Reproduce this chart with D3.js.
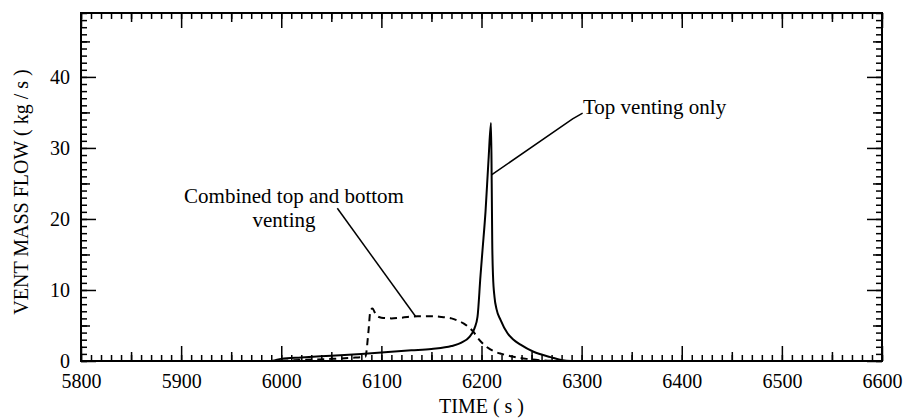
<!DOCTYPE html>
<html>
<head>
<meta charset="utf-8">
<script src="https://cdn.jsdelivr.net/npm/d3@7"></script>
<style>
  html, body { margin: 0; padding: 0; background: #fff; }
  svg { display: block; }
  text { font-family: "Liberation Serif", "Times New Roman", serif; fill: #000; }
</style>
</head>
<body>
<svg id="chart" width="903" height="420"></svg>
<script>
// ---- data ----
const topOnlyTime = [5990, 6000, 6020, 6050, 6080, 6100, 6130, 6150, 6170, 6180, 6188, 6193, 6196, 6199, 6201, 6204, 6207, 6209.5, 6210.2, 6210.7, 6211.5, 6213, 6215, 6219, 6226, 6232, 6239, 6252, 6269, 6281, 6290];
const topOnlyFlow = [0, 0.3, 0.5, 0.75, 1.0, 1.2, 1.5, 1.7, 2.1, 2.6, 3.4, 4.6, 6.2, 12, 15.6, 21, 28.3, 33.5, 25, 17, 12, 9, 7.3, 5.8, 3.9, 3.0, 2.3, 1.3, 0.55, 0.1, 0];

const combinedTime = [6000, 6020, 6050, 6070, 6084, 6087, 6089, 6091, 6095, 6100, 6110, 6120, 6136, 6150, 6160, 6170, 6176, 6182, 6187, 6192, 6196, 6201, 6206, 6212, 6220, 6232, 6245, 6260, 6275];
const combinedFlow = [0.05, 0.15, 0.3, 0.45, 0.6, 4.0, 7.0, 7.4, 6.4, 6.1, 6.0, 6.1, 6.3, 6.3, 6.2, 6.0, 5.7, 5.3, 4.8, 4.1, 3.3, 2.5, 1.9, 1.4, 1.0, 0.6, 0.3, 0.1, 0];

const xTickLabels = [5800, 5900, 6000, 6100, 6200, 6300, 6400, 6500, 6600];
const yTickLabels = [0, 10, 20, 30, 40];

const xTitle = "TIME ( s )";
const yTitle = "VENT MASS FLOW ( kg / s )";

const combinedLabel = ["Combined top and bottom", "venting"];
const combinedLeaderTime = [6056, 6134];
const combinedLeaderFlow = [21.5, 6.3];
const topLabel = "Top venting only";
const topLeaderTime = [6210, 6291, 6301];
const topLeaderFlow = [26.2, 34.1, 34.9];

// ---- layout ----
const svg = d3.select("#chart");
const L = 81, R = 882, T = 13, B = 361;
const x = d3.scaleLinear().domain([5800, 6600]).range([L, R]);
const y = d3.scaleLinear().domain([0, 49]).range([B, T]);

const g = svg.append("g");

function styleAxis(sel) {
  sel.select(".domain").remove();
  sel.selectAll("line").attr("stroke", "#000").attr("stroke-width", 1.5);
  sel.selectAll("text").style("font-size", "20px").attr("fill", "#000");
}

const xMinor = d3.range(5800, 6601, 10);
const xMed = d3.range(5850, 6600, 100);
const yMinor = d3.range(0, 49.01, 1);
const yMed = d3.range(5, 49, 10);

// bottom axis (ticks pointing up, inside)
g.append("g").attr("transform", `translate(0,${B})`)
  .call(d3.axisBottom(x).tickValues(xMinor).tickSize(-6).tickFormat(""))
  .call(styleAxis);
g.append("g").attr("transform", `translate(0,${B})`)
  .call(d3.axisBottom(x).tickValues(xMed).tickSize(-9).tickFormat(""))
  .call(styleAxis);
g.append("g").attr("transform", `translate(0,${B})`)
  .call(d3.axisBottom(x).tickValues(xTickLabels).tickSize(-15).tickPadding(13).tickFormat(d3.format("d")))
  .call(styleAxis);

// top axis (ticks pointing down)
g.append("g").attr("transform", `translate(0,${T})`)
  .call(d3.axisTop(x).tickValues(xMinor).tickSize(-6).tickFormat(""))
  .call(styleAxis);
g.append("g").attr("transform", `translate(0,${T})`)
  .call(d3.axisTop(x).tickValues(xMed).tickSize(-9).tickFormat(""))
  .call(styleAxis);
g.append("g").attr("transform", `translate(0,${T})`)
  .call(d3.axisTop(x).tickValues(xTickLabels).tickSize(-15).tickFormat(""))
  .call(styleAxis);

// left axis
g.append("g").attr("transform", `translate(${L},0)`)
  .call(d3.axisLeft(y).tickValues(yMinor).tickSize(-6).tickFormat(""))
  .call(styleAxis);
g.append("g").attr("transform", `translate(${L},0)`)
  .call(d3.axisLeft(y).tickValues(yMed).tickSize(-9).tickFormat(""))
  .call(styleAxis);
g.append("g").attr("transform", `translate(${L},0)`)
  .call(d3.axisLeft(y).tickValues(yTickLabels).tickSize(-15).tickPadding(11).tickFormat(d3.format("d")))
  .call(styleAxis);

// right axis
g.append("g").attr("transform", `translate(${R},0)`)
  .call(d3.axisRight(y).tickValues(yMinor).tickSize(-6).tickFormat(""))
  .call(styleAxis);
g.append("g").attr("transform", `translate(${R},0)`)
  .call(d3.axisRight(y).tickValues(yMed).tickSize(-9).tickFormat(""))
  .call(styleAxis);
g.append("g").attr("transform", `translate(${R},0)`)
  .call(d3.axisRight(y).tickValues(yTickLabels).tickSize(-15).tickFormat(""))
  .call(styleAxis);

// frame
g.append("rect").attr("x", L).attr("y", T).attr("width", R - L).attr("height", B - T)
  .attr("fill", "none").attr("stroke", "#000").attr("stroke-width", 2);

// titles
g.append("text").attr("x", (L + R) / 2).attr("y", 413).attr("text-anchor", "middle")
  .style("font-size", "20px").text(xTitle);
g.append("text").attr("transform", `translate(28,${(T + B) / 2 + 5}) rotate(-90)`)
  .attr("text-anchor", "middle").style("font-size", "20px").text(yTitle);

// series
const line = d3.line().x(d => x(d[0])).y(d => y(d[1])).curve(d3.curveMonotoneX);
g.append("path").datum(combinedTime.map((t, i) => [t, combinedFlow[i]]))
  .attr("d", line).attr("fill", "none").attr("stroke", "#000")
  .attr("stroke-width", 2).attr("stroke-dasharray", "7,5");
g.append("path").datum(topOnlyTime.map((t, i) => [t, topOnlyFlow[i]]))
  .attr("d", line).attr("fill", "none").attr("stroke", "#000").attr("stroke-width", 2);

// annotations
const straight = d3.line().x(d => x(d[0])).y(d => y(d[1]));
g.append("path").datum(combinedLeaderTime.map((t, i) => [t, combinedLeaderFlow[i]]))
  .attr("d", straight).attr("fill", "none").attr("stroke", "#000").attr("stroke-width", 1.5);
g.append("path").datum(topLeaderTime.map((t, i) => [t, topLeaderFlow[i]]))
  .attr("d", straight).attr("fill", "none").attr("stroke", "#000").attr("stroke-width", 1.5);

g.append("text").attr("x", 294).attr("y", 203).attr("text-anchor", "middle")
  .style("font-size", "21px").text(combinedLabel[0]);
g.append("text").attr("x", 284).attr("y", 227).attr("text-anchor", "middle")
  .style("font-size", "21px").text(combinedLabel[1]);
g.append("text").attr("x", 583).attr("y", 114)
  .style("font-size", "21px").text(topLabel);
</script>
</body>
</html>
